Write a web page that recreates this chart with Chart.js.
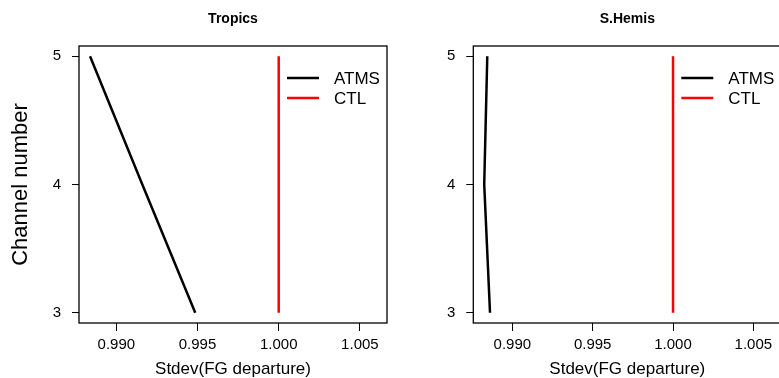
<!DOCTYPE html>
<html>
<head>
<meta charset="utf-8">
<script src="https://cdn.jsdelivr.net/npm/chart.js@4.4.0/dist/chart.umd.min.js"></script>
<style>
  html, body { margin: 0; padding: 0; background: #fff; overflow: hidden; }
  #wrap { position: relative; width: 779px; height: 378px; overflow: hidden; }
  .panel { position: absolute; top: 0; width: 400px; height: 378px; }
  #panel-tropics { left: 0; }
  #panel-shemis { left: 400px; }
</style>
</head>
<body>
<div id="wrap">
  <div class="panel" id="panel-tropics"><canvas id="chart-tropics" width="400" height="378"></canvas></div>
  <div class="panel" id="panel-shemis"><canvas id="chart-shemis" width="400" height="378"></canvas></div>
</div>
<script>
// ---- data ----
const CHANNELS = [3, 4, 5];
const X_TICKS = [0.990, 0.995, 1.000, 1.005];
const Y_TICKS = [3, 4, 5];
const SERIES_NAMES = ['ATMS', 'CTL'];

const TROPICS_ATMS = [0.99486, 0.99160, 0.98838];
const TROPICS_CTL = [1.000, 1.000, 1.000];
const SHEMIS_ATMS = [0.98861, 0.98825, 0.98844];
const SHEMIS_CTL = [1.000, 1.000, 1.000];

const FONT = '"Liberation Sans", Arial, Helvetica, sans-serif';

// 框線：四邊都畫
const boxPlugin = {
  id: 'box',
  afterDraw(chart) {
    const { ctx, chartArea: a } = chart;
    ctx.save();
    ctx.strokeStyle = '#000';
    ctx.lineWidth = 1.3;
    ctx.strokeRect(a.left, a.top, a.right - a.left, a.bottom - a.top);
    ctx.restore();
  }
};

// 圖例：畫在繪圖區右上角，無外框
const lineLegend = {
  id: 'lineLegend',
  afterDraw(chart) {
    const { ctx, chartArea: a } = chart;
    ctx.save();
    ctx.font = '17px ' + FONT;
    ctx.textBaseline = 'middle';
    ctx.textAlign = 'left';
    ctx.fillStyle = '#000';
    chart.data.datasets.forEach((ds, i) => {
      const y = a.top + 32 + i * 20;
      ctx.strokeStyle = ds.borderColor;
      ctx.lineWidth = ds.borderWidth;
      ctx.beginPath();
      ctx.moveTo(a.right - 100, y);
      ctx.lineTo(a.right - 68, y);
      ctx.stroke();
      ctx.fillText(ds.label, a.right - 53, y + 1);
    });
    ctx.restore();
  }
};

function toPoints(values) {
  return values.map((v, i) => ({ x: v, y: CHANNELS[i] }));
}

function makePanel(canvasId, opts) {
  return new Chart(document.getElementById(canvasId), {
    type: 'line',
    data: {
      datasets: [
        {
          label: SERIES_NAMES[0],
          data: toPoints(opts.atms),
          borderColor: '#000000',
          borderWidth: 2.5,
          pointRadius: 0,
          tension: 0,
          fill: false
        },
        {
          label: SERIES_NAMES[1],
          data: toPoints(opts.ctl),
          borderColor: '#ff0000',
          borderWidth: 2.5,
          pointRadius: 0,
          tension: 0,
          fill: false
        }
      ]
    },
    options: {
      responsive: false,
      animation: false,
      layout: { padding: { left: 0, right: opts.padRight, top: 0, bottom: 0 } },
      plugins: {
        legend: { display: false },
        tooltip: { enabled: false },
        title: {
          display: true,
          text: opts.title,
          fullSize: false,
          color: '#000',
          font: { family: FONT, size: 14, weight: 'bold' },
          padding: { top: 10.6, bottom: 18.6 }
        }
      },
      scales: {
        x: {
          type: 'linear',
          min: opts.xMin,
          max: opts.xMax,
          afterBuildTicks: s => { s.ticks = X_TICKS.map(v => ({ value: v })); },
          afterFit: s => { s.height = 55; },
          ticks: {
            color: '#000',
            padding: 5,
            font: { family: FONT, size: 15 },
            callback: v => Number(v).toFixed(3)
          },
          grid: { drawOnChartArea: false, drawTicks: true, tickLength: 8, color: '#000', lineWidth: 1 },
          border: { display: false },
          title: {
            display: true,
            text: 'Stdev(FG departure)',
            color: '#000',
            font: { family: FONT, size: 17 },
            padding: { top: 0, bottom: -2 }
          }
        },
        y: {
          type: 'linear',
          min: 2.92,
          max: 5.08,
          afterBuildTicks: s => { s.ticks = Y_TICKS.map(v => ({ value: v })); },
          afterFit: s => { s.width = opts.yWidth; },
          ticks: {
            color: '#000',
            padding: 11,
            font: { family: FONT, size: 15 },
            callback: v => String(v)
          },
          grid: { drawOnChartArea: false, drawTicks: true, tickLength: 7, color: '#000', lineWidth: 1 },
          border: { display: false },
          title: {
            display: opts.showYTitle,
            text: 'Channel number',
            color: '#000',
            font: { family: FONT, size: 22 },
            padding: { top: 7.4, bottom: 0 }
          }
        }
      }
    },
    plugins: [boxPlugin, lineLegend]
  });
}

makePanel('chart-tropics', {
  title: 'Tropics',
  atms: TROPICS_ATMS,
  ctl: TROPICS_CTL,
  xMin: 0.98770,
  xMax: 1.00667,
  yWidth: 79,
  padRight: 13,
  showYTitle: true
});

makePanel('chart-shemis', {
  title: 'S.Hemis',
  atms: SHEMIS_ATMS,
  ctl: SHEMIS_CTL,
  xMin: 0.98757,
  xMax: 1.00674,
  yWidth: 73.3,
  padRight: 18.7,
  showYTitle: false
});
</script>
</body>
</html>
